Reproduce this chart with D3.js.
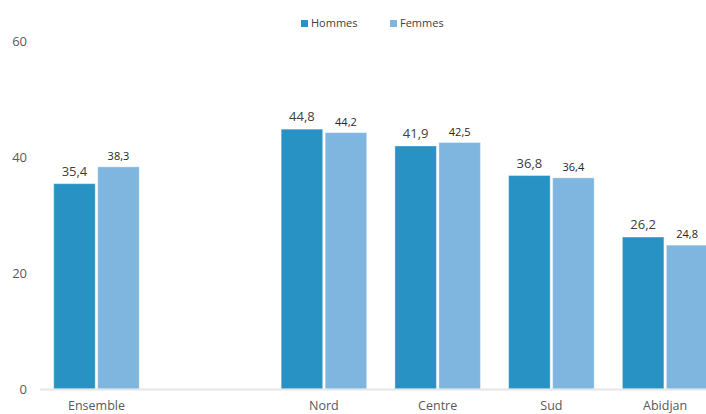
<!DOCTYPE html>
<html><head><meta charset="utf-8">
<script src="https://cdn.jsdelivr.net/npm/d3@7"></script>
<style>body{margin:0;background:#fff}svg{display:block}text{font-family:"Open Sans","Noto Sans",sans-serif}</style>
</head><body><svg id="c" width="706" height="414"></svg>
<script>
const categories = ["Ensemble", "", "Nord", "Centre", "Sud", "Abidjan"];
const series = ["Hommes", "Femmes"];
const hommes = [35.4, null, 44.8, 41.9, 36.8, 26.2];
const femmes = [38.3, null, 44.2, 42.5, 36.4, 24.8];
const yTicks = [0, 20, 40, 60];
const colors = ["#2792c3", "#7fb6e0"];

const svg = d3.select("#c");
const x = d3.scaleBand().domain(d3.range(categories.length)).range([39.6, 722]).paddingInner(0).paddingOuter(0);
const y = d3.scaleLinear().domain([0, 60]).range([389, 41]);
const barW = 41.5, gap = 2.5;

// y tick labels
svg.append("g").selectAll("text").data(yTicks).join("text")
  .attr("x", 27).attr("y", d => y(d)).attr("dy", "0.35em").attr("text-anchor", "end")
  .attr("font-size", 13).attr("fill", "#595959").text(d => d);

const data = [hommes, femmes];
data.forEach((vals, si) => {
  const g = svg.append("g");
  const items = vals.map((v, i) => ({v, i})).filter(d => d.v != null);
  const xpos = d => x(d.i) + x.bandwidth() / 2 + (si === 0 ? -gap/2 - barW : gap/2);
  g.selectAll("rect").data(items).join("rect")
    .attr("x", xpos).attr("width", barW)
    .attr("y", d => y(d.v)).attr("height", d => y(0) - y(d.v))
    .attr("fill", colors[si]).attr("stroke", "#ffffff").attr("stroke-opacity", 0.35).attr("stroke-width", 1);
  g.selectAll("text").data(items).join("text")
    .attr("x", d => xpos(d) + barW / 2)
    .attr("y", d => y(d.v) - (si === 0 ? 8 : 7))
    .attr("text-anchor", "middle")
    .attr("font-size", si === 0 ? 13 : 11)
    .attr("fill", si === 0 ? "#404040" : "#262626")
    .text(d => d3.format(".1f")(d.v).replace(".", ","));
});

// x axis line
svg.append("line").attr("x1", 40).attr("x2", 706).attr("y1", y(0) + 0.5).attr("y2", y(0) + 0.5)
  .attr("stroke", "#e6e6e6").attr("stroke-width", 2);

// category labels
svg.append("g").selectAll("text").data(categories.map((c, i) => ({c, i})).filter(d => d.c)).join("text")
  .attr("x", d => x(d.i) + x.bandwidth() / 2).attr("y", 406).attr("dy", "0.35em")
  .attr("text-anchor", "middle").attr("font-size", 12.5).attr("fill", "#595959").text(d => d.c);

// legend
const legX = [301, 390];
series.forEach((s, i) => {
  svg.append("rect").attr("x", legX[i]).attr("y", 20).attr("width", 7).attr("height", 7).attr("fill", colors[i]);
  svg.append("text").attr("x", legX[i] + 10).attr("y", 23.5).attr("dy", "0.35em")
    .attr("font-size", 11).attr("fill", "#404040").text(s);
});
</script></body></html>
